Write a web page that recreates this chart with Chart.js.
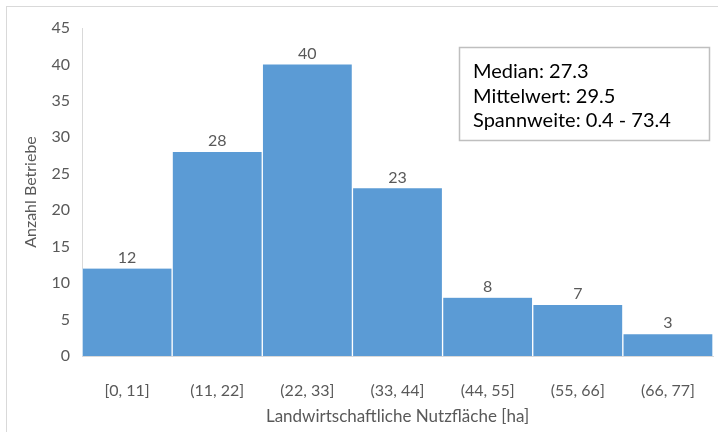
<!DOCTYPE html>
<html>
<head>
<meta charset="utf-8">
<script src="https://cdn.jsdelivr.net/npm/chart.js@4"></script>
<style>
  html, body { margin: 0; padding: 0; background: #fff; }
  #wrap { position: relative; width: 718px; height: 432px; overflow: hidden; }
  #frame { position: absolute; left: 6px; top: 6px; width: 800px; height: 500px; border: 1px solid #d9d9d9; }
  canvas { position: absolute; left: 0; top: 0; }
</style>
</head>
<body>
<div id="wrap">
  <div id="frame"></div>
  <canvas id="myChart" width="718" height="432"></canvas>
</div>
<script>
// histogram bins and counts
const bins = ['[0, 11]', '(11, 22]', '(22, 33]', '(33, 44]', '(44, 55]', '(55, 66]', '(66, 77]'];
const counts = [12, 28, 40, 23, 8, 7, 3];
const statLines = ['Median: 27.3', 'Mittelwert: 29.5', 'Spannweite: 0.4 - 73.4'];

const fontFam = 'Lato, "Open Sans", sans-serif';
const grey = '#595959';

// numbers above the bars
const valueLabels = {
    id: 'valueLabels',
    afterDatasetsDraw(chart) {
        let ctx = chart.ctx;
        let meta = chart.getDatasetMeta(0);
        ctx.save();
        ctx.font = '16px ' + fontFam;
        ctx.fillStyle = grey;
        ctx.textAlign = 'center';
        ctx.textBaseline = 'bottom';
        meta.data.forEach((bar, i) => {
            ctx.fillText(counts[i], bar.x, bar.y - 3);
        });
        ctx.restore();
    }
};

// stats box top right
const statsBox = {
    id: 'statsBox',
    afterDraw(chart) {
        let ctx = chart.ctx;
        let x = 459, y = 47, w = 250, h = 93;
        ctx.save();
        ctx.fillStyle = '#fff';
        ctx.fillRect(x, y, w, h);
        ctx.strokeStyle = '#bfbfbf';
        ctx.lineWidth = 1.5;
        ctx.strokeRect(x + 0.5, y + 0.5, w, h);
        ctx.font = '20px ' + fontFam;
        ctx.fillStyle = '#000';
        ctx.textBaseline = 'middle';
        statLines.forEach((line, i) => {
            ctx.fillText(line, x + 14, y + 25 + i * 24.5);
        });
        ctx.restore();
    }
};

new Chart(document.getElementById('myChart'), {
    type: 'bar',
    data: {
        labels: bins,
        datasets: [{
            data: counts,
            backgroundColor: '#5B9BD5',
            borderColor: '#ffffff',
            borderWidth: { left: 1, right: 1, top: 0, bottom: 0 },
            borderSkipped: false,
            categoryPercentage: 1,
            barPercentage: 1
        }]
    },
    options: {
        responsive: false,
        animation: false,
        layout: { padding: { top: 28, right: 5, left: 0, bottom: 0 } },
        plugins: {
            legend: { display: false },
            tooltip: { enabled: false }
        },
        scales: {
            x: {
                grid: { display: false },
                border: { display: true, color: '#d9d9d9' },
                ticks: { color: grey, font: { family: fontFam, size: 16 }, padding: 17 },
                title: {
                    display: true,
                    text: 'Landwirtschaftliche Nutzfläche [ha]',
                    color: grey,
                    font: { family: fontFam, size: 17 },
                    padding: { top: 4, bottom: 5 }
                },
                afterFit: (scale) => { scale.height = 76; }
            },
            y: {
                min: 0,
                max: 45,
                grid: { display: false },
                border: { display: true, color: '#d9d9d9' },
                ticks: { stepSize: 5, color: grey, font: { family: fontFam, size: 16 }, padding: 4 },
                title: {
                    display: true,
                    text: 'Anzahl Betriebe',
                    color: grey,
                    font: { family: fontFam, size: 16 },
                    padding: { top: 21, bottom: 4 }
                },
                afterFit: (scale) => { scale.width = 82; }
            }
        }
    },
    plugins: [valueLabels, statsBox]
});
</script>
</body>
</html>
